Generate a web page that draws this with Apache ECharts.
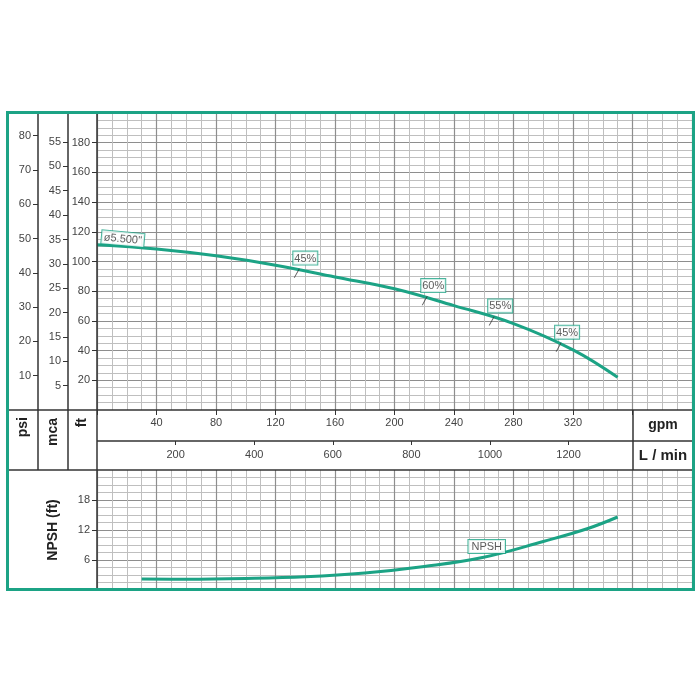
<!DOCTYPE html>
<html>
<head>
<meta charset="utf-8">
<script src="https://cdn.jsdelivr.net/npm/echarts@6/dist/echarts.min.js"></script>
<style>
html,body{margin:0;padding:0;background:#fff;}
#chart{width:700px;height:700px;}
</style>
</head>
<body>
<div id="chart"></div>
<script>
// ---- data ----
const headGpm = [0, 40, 80, 120, 160, 200, 240, 280, 320, 350];
const headFt  = [111.3, 108.4, 103.8, 97.5, 89.6, 81.6, 70.3, 58.2, 40.5, 22];

const npshGpm = [30, 60, 100, 140, 180, 220, 260, 300, 330, 350];
const npshFt  = [2.2, 2.15, 2.3, 2.65, 3.4, 4.7, 6.55, 9.7, 12.3, 14.6];

const effLabels = ['45%', '60%', '55%', '45%'];
const effGpm    = [136, 222, 267, 312];
const effFt     = [94.5, 76.0, 62.3, 44.6];

const diaLabel = 'ø5.500"';
const diaGpm = 17;
const diaFt = 110.3;

const npshLabel = 'NPSH';
const npshLabelGpm = 262;
const npshLabelFt = 6.4;

// tick labels
const gpmTicks  = [40, 80, 120, 160, 200, 240, 280, 320];
const lpmTicks  = [200, 400, 600, 800, 1000, 1200];
const ftTicks   = [20, 40, 60, 80, 100, 120, 140, 160, 180];
const mcaTicks  = [5, 10, 15, 20, 25, 30, 35, 40, 45, 50, 55];
const psiTicks  = [10, 20, 30, 40, 50, 60, 70, 80];
const npshTicks = [6, 12, 18];

// unit conversions
const LPM_PER_GPM = 3.785;
const FT_PER_PSI = 2.31;
const FT_PER_M = 3.281;
const GPM_MAX = 400;
const FT_MAX = 200;
const NPSH_MAX = 24;

// ---- styles ----
const TEAL = '#1ca385';
const FONT = 'Liberation Sans, Arial, sans-serif';
const MAJOR = '#8e8e8e';
const MINOR = '#bfbfbf';
const DARK = '#333';

const chart = echarts.init(document.getElementById('chart'), null, {renderer: 'canvas'});

const zip = (a, b) => a.map((v, i) => [v, b[i]]);

const tickLabel = {fontSize: 11, color: '#444', fontFamily: FONT, formatter: v => String(v)};

function yAux(grid, max, ticks) {
  return {
    type: 'value', gridIndex: grid, position: 'left',
    min: 0, max: max,
    axisLine: {show: false},
    axisTick: {show: true, length: 5, lineStyle: {color: DARK}, customValues: ticks},
    axisLabel: Object.assign({margin: 7, customValues: ticks}, tickLabel),
    splitLine: {show: false}
  };
}
function hiddenX(grid) {
  return {type: 'value', gridIndex: grid, min: 0, max: 1, show: false};
}
function hiddenY(grid) {
  return {type: 'value', gridIndex: grid, min: 0, max: 1, show: false};
}

const option = {
  backgroundColor: '#fff',
  animation: false,
  grid: [
    {left: 97, top: 113, width: 595, height: 297},   // 0 head (ft / gpm)
    {left: 97, top: 470, width: 595, height: 120},   // 1 NPSH
    {left: 68, top: 113, width: 29, height: 297},    // 2 mca scale
    {left: 38, top: 113, width: 30, height: 297},    // 3 psi scale
    {left: 97, top: 113, width: 595, height: 328}    // 4 L/min scale
  ],
  xAxis: [
    {
      type: 'value', gridIndex: 0, position: 'bottom', min: 0, max: GPM_MAX, interval: 40,
      axisLine: {show: false},
      axisTick: {show: true, length: 5, lineStyle: {color: DARK}},
      axisLabel: Object.assign({margin: 7, customValues: gpmTicks}, tickLabel),
      splitLine: {show: true, lineStyle: {color: MAJOR, width: 1.2}},
      minorTick: {show: false, splitNumber: 4},
      minorSplitLine: {show: true, lineStyle: {color: MINOR, width: 1}}
    },
    {
      type: 'value', gridIndex: 1, min: 0, max: GPM_MAX, interval: 40,
      axisLine: {show: false}, axisTick: {show: false}, axisLabel: {show: false},
      splitLine: {show: true, lineStyle: {color: MAJOR, width: 1.2}},
      minorTick: {show: false, splitNumber: 4},
      minorSplitLine: {show: true, lineStyle: {color: MINOR, width: 1}}
    },
    hiddenX(2),
    hiddenX(3),
    {
      type: 'value', gridIndex: 4, position: 'bottom',
      min: 0, max: GPM_MAX * LPM_PER_GPM,
      axisLine: {show: false},
      axisTick: {show: true, length: 4, lineStyle: {color: DARK}, customValues: lpmTicks},
      axisLabel: Object.assign({margin: 8, customValues: lpmTicks}, tickLabel),
      splitLine: {show: false}
    }
  ],
  yAxis: [
    {
      type: 'value', gridIndex: 0, position: 'left', min: 0, max: FT_MAX, interval: 20,
      axisLine: {show: false},
      axisTick: {show: true, length: 5, lineStyle: {color: DARK}, customValues: ftTicks},
      axisLabel: Object.assign({margin: 7, customValues: ftTicks}, tickLabel),
      splitLine: {show: true, lineStyle: {color: MAJOR, width: 1.2}},
      minorTick: {show: false, splitNumber: 4},
      minorSplitLine: {show: true, lineStyle: {color: MINOR, width: 1}}
    },
    {
      type: 'value', gridIndex: 1, position: 'left', min: 0, max: NPSH_MAX, interval: 6,
      axisLine: {show: false},
      axisTick: {show: true, length: 5, lineStyle: {color: DARK}, customValues: npshTicks},
      axisLabel: Object.assign({margin: 7, customValues: npshTicks}, tickLabel),
      splitLine: {show: true, lineStyle: {color: MAJOR, width: 1.2}},
      minorTick: {show: false, splitNumber: 4},
      minorSplitLine: {show: true, lineStyle: {color: MINOR, width: 1}}
    },
    yAux(2, FT_MAX / FT_PER_M, mcaTicks),
    yAux(3, FT_MAX / FT_PER_PSI, psiTicks),
    hiddenY(4)
  ],
  series: [
    {
      name: 'Head', type: 'line', xAxisIndex: 0, yAxisIndex: 0,
      data: zip(headGpm, headFt), smooth: 0.4, symbol: 'none',
      lineStyle: {color: TEAL, width: 3}, z: 5
    },
    {
      name: 'effMarks', type: 'scatter', xAxisIndex: 0, yAxisIndex: 0,
      data: zip(effGpm, effFt),
      symbol: 'path://M5,0 L6,0 L1,9 L0,9 Z', symbolSize: [6, 9], symbolOffset: [-2.5, 3.5],
      itemStyle: {color: DARK}, z: 6
    },
    {
      name: 'effLabels', type: 'scatter', xAxisIndex: 0, yAxisIndex: 0,
      data: effGpm.map((g, i) => ({value: [g, effFt[i]], name: effLabels[i]})),
      symbolSize: 0.1, itemStyle: {color: 'rgba(0,0,0,0)'}, z: 7,
      label: {
        show: true, position: 'top', distance: 5, offset: [6, 0],
        formatter: p => p.name,
        fontSize: 11, fontFamily: FONT, color: '#333', lineHeight: 12,
        backgroundColor: '#fff', borderColor: TEAL, borderWidth: 1, padding: [1, 1, 0, 1]
      }
    },
    {
      name: 'dia', type: 'scatter', xAxisIndex: 0, yAxisIndex: 0,
      data: [{value: [diaGpm, diaFt], name: diaLabel}],
      symbolSize: 0.1, itemStyle: {color: 'rgba(0,0,0,0)'}, z: 7,
      label: {
        show: true, position: 'top', distance: 1, rotate: -5,
        formatter: p => p.name,
        fontSize: 11, fontFamily: FONT, color: '#333', lineHeight: 12,
        backgroundColor: '#fff', borderColor: TEAL, borderWidth: 1, padding: [1, 2, 0, 2]
      }
    },
    {
      name: 'NPSH', type: 'line', xAxisIndex: 1, yAxisIndex: 1,
      data: zip(npshGpm, npshFt), smooth: 0.4, symbol: 'none',
      lineStyle: {color: TEAL, width: 3}, z: 5
    },
    {
      name: 'npshLabel', type: 'scatter', xAxisIndex: 1, yAxisIndex: 1,
      data: [{value: [npshLabelGpm, npshLabelFt], name: npshLabel}],
      symbolSize: 0.1, itemStyle: {color: 'rgba(0,0,0,0)'}, z: 7,
      label: {
        show: true, position: 'top', distance: 5,
        formatter: p => p.name,
        fontSize: 11, fontFamily: FONT, color: '#333', lineHeight: 12,
        backgroundColor: '#fff', borderColor: TEAL, borderWidth: 1, padding: [1, 3, 0, 3]
      }
    }
  ],
  graphic: [
    // table dividers
    {type: 'line', z: 50, shape: {x1: 38, y1: 113, x2: 38, y2: 470}, style: {stroke: DARK, lineWidth: 1.5}},
    {type: 'line', z: 50, shape: {x1: 68, y1: 113, x2: 68, y2: 470}, style: {stroke: DARK, lineWidth: 1.5}},
    {type: 'line', z: 50, shape: {x1: 97, y1: 113, x2: 97, y2: 589}, style: {stroke: DARK, lineWidth: 1.5}},
    {type: 'line', z: 50, shape: {x1: 7, y1: 410, x2: 694, y2: 410}, style: {stroke: DARK, lineWidth: 1.5}},
    {type: 'line', z: 50, shape: {x1: 97, y1: 441, x2: 694, y2: 441}, style: {stroke: DARK, lineWidth: 1.5}},
    {type: 'line', z: 50, shape: {x1: 7, y1: 470, x2: 694, y2: 470}, style: {stroke: DARK, lineWidth: 1.5}},
    {type: 'line', z: 50, shape: {x1: 633, y1: 410, x2: 633, y2: 470}, style: {stroke: DARK, lineWidth: 1.5}},
    // outer teal frame
    {type: 'rect', z: 60, shape: {x: 7.5, y: 112.5, width: 686, height: 477}, style: {fill: null, stroke: TEAL, lineWidth: 3}},
    // unit titles
    {type: 'text', z: 55, x: 23, y: 417, rotation: Math.PI / 2,
     style: {text: 'psi', font: 'bold 14px ' + FONT, fill: '#222', align: 'right', verticalAlign: 'middle'}},
    {type: 'text', z: 55, x: 53, y: 418, rotation: Math.PI / 2,
     style: {text: 'mca', font: 'bold 14px ' + FONT, fill: '#222', align: 'right', verticalAlign: 'middle'}},
    {type: 'text', z: 55, x: 82, y: 418, rotation: Math.PI / 2,
     style: {text: 'ft', font: 'bold 14px ' + FONT, fill: '#222', align: 'right', verticalAlign: 'middle'}},
    {type: 'text', z: 55, x: 663, y: 425,
     style: {text: 'gpm', font: 'bold 14px ' + FONT, fill: '#222', align: 'center', verticalAlign: 'middle'}},
    {type: 'text', z: 55, x: 663, y: 456,
     style: {text: 'L / min', font: 'bold 15px ' + FONT, fill: '#222', align: 'center', verticalAlign: 'middle'}},
    {type: 'text', z: 55, x: 53, y: 530, rotation: Math.PI / 2,
     style: {text: 'NPSH (ft)', font: 'bold 14px ' + FONT, fill: '#222', align: 'center', verticalAlign: 'middle'}}
  ]
};

chart.setOption(option);
</script>
</body>
</html>
